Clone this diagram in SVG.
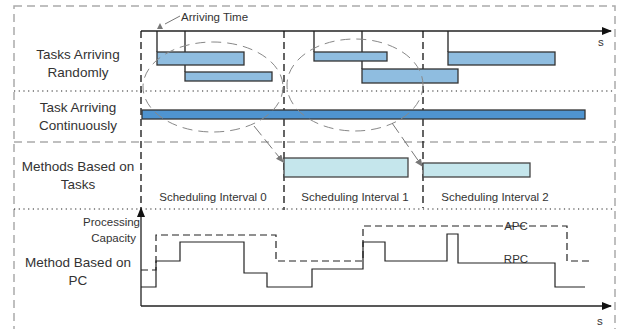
<svg xmlns="http://www.w3.org/2000/svg" width="623" height="329" viewBox="0 0 623 329">
<defs>
<marker id="ah" markerWidth="10" markerHeight="8" refX="9" refY="4" orient="auto" markerUnits="userSpaceOnUse"><path d="M0,0 L10,4 L0,8 Z" fill="#111"/></marker>
<marker id="ahg" markerWidth="8" markerHeight="7" refX="7" refY="3.5" orient="auto" markerUnits="userSpaceOnUse"><path d="M0,0 L8,3.5 L0,7 Z" fill="#777"/></marker>
<style>
.lbl{font-family:"Liberation Sans",Arial,sans-serif;font-size:13.5px;fill:#333;text-anchor:middle}
.sm{font-family:"Liberation Sans",Arial,sans-serif;font-size:11.5px;fill:#333}
.bar{fill:#8fbde0;stroke:#333;stroke-width:1.3}
.cbar{fill:#4f94d0;stroke:#333;stroke-width:1.3}
.ibox{fill:#c5e6ec;stroke:#444;stroke-width:1.3}
.vdash{stroke:#111;stroke-width:1.3;stroke-dasharray:7 4;fill:none}
.ell{fill:none;stroke:#888;stroke-width:1;stroke-dasharray:10 6}
.solid{stroke:#222;stroke-width:1.3;fill:none}
</style>
</defs>
<g id="frame">
<rect x="14" y="6" width="601" height="330" fill="none" stroke="#aaa" stroke-width="1.5" stroke-dasharray="8 5"/>
<line x1="14" y1="91" x2="615" y2="91" stroke="#222" stroke-width="1.2" stroke-dasharray="1.2 3.5"/>
<line x1="14" y1="142" x2="615" y2="142" stroke="#aaa" stroke-width="1.3" stroke-dasharray="8 5"/>
<line x1="14" y1="209" x2="615" y2="209" stroke="#222" stroke-width="1.2" stroke-dasharray="1.2 3.5"/>
</g>
<g id="labels">
<text class="lbl" x="78" y="59">Tasks Arriving</text>
<text class="lbl" x="78" y="77">Randomly</text>
<text class="lbl" x="78" y="112">Task Arriving</text>
<text class="lbl" x="78" y="130">Continuously</text>
<text class="lbl" x="78" y="171">Methods Based on</text>
<text class="lbl" x="78" y="189">Tasks</text>
<text class="lbl" x="78" y="267">Method Based on</text>
<text class="lbl" x="78" y="285">PC</text>
<text class="sm" x="140" y="226" text-anchor="end">Processing</text>
<text class="sm" x="136" y="242" text-anchor="end">Capacity</text>
<text class="sm" x="213" y="201" text-anchor="middle">Scheduling Interval 0</text>
<text class="sm" x="355" y="201" text-anchor="middle">Scheduling Interval 1</text>
<text class="sm" x="495" y="201" text-anchor="middle">Scheduling Interval 2</text>
<text class="sm" x="181" y="21">Arriving Time</text>
<text class="sm" x="598" y="46">s</text>
<text class="sm" x="597" y="325">s</text>
<text class="sm" x="516" y="230" text-anchor="middle">APC</text>
<text class="sm" x="516" y="263" text-anchor="middle">RPC</text>
</g>
<g id="axes">
<line x1="141" y1="31" x2="611" y2="31" class="solid" marker-end="url(#ah)"/>
<line x1="141" y1="306" x2="611" y2="306" class="solid" marker-end="url(#ah)"/>
<line x1="141" y1="306" x2="141" y2="208" class="solid" marker-end="url(#ah)"/>
<line x1="141" y1="31" x2="141" y2="208" class="vdash"/>
<line x1="284" y1="31" x2="284" y2="210" class="vdash"/>
<line x1="423" y1="31" x2="423" y2="208" class="vdash"/>
</g>
<g id="tasks">
<path d="M157,31 V52 M185,31 V72 M314,31 V52 M362,31 V69 M448,31 V52" class="solid"/>
<rect class="bar" x="157" y="52" width="87" height="13"/>
<rect class="bar" x="185" y="72" width="87" height="9"/>
<rect class="bar" x="314" y="52" width="73" height="9"/>
<rect class="bar" x="362" y="69" width="96" height="14"/>
<rect class="bar" x="448" y="52" width="107" height="13"/>
<rect class="cbar" x="142" y="110" width="443" height="9"/>
</g>
<g id="intervals">
<rect class="ibox" x="284" y="158" width="124" height="19"/>
<rect class="ibox" x="423" y="163" width="107" height="14"/>
</g>
<g id="connectors">
<ellipse class="ell" cx="213" cy="87" rx="70" ry="45"/>
<ellipse class="ell" cx="355" cy="85" rx="68" ry="46"/>
<line x1="254" y1="126" x2="283" y2="162" stroke="#777" stroke-width="1" stroke-dasharray="12 5" marker-end="url(#ahg)"/>
<line x1="392" y1="123" x2="422" y2="166" stroke="#777" stroke-width="1" stroke-dasharray="12 5" marker-end="url(#ahg)"/>
<line x1="180" y1="16" x2="165" y2="24" stroke="#777" stroke-width="1"/>
<path d="M157,29 L160,23 L163,29 Z" fill="#777"/>
</g>
<g id="curves">
<path d="M141,270 H156 V235 H276 V261 H363 V226 H567 V261 H591" fill="none" stroke="#222" stroke-width="1.2" stroke-dasharray="7 4"/>
<path d="M141,287 H156 V261 H180 V242 H244 V273 H267 V287 H312 V269 H363 V242 H385 V261 H447 V234 H458 V263 H555 V287 H585" fill="none" stroke="#222" stroke-width="1.2"/>
</g>
</svg>
